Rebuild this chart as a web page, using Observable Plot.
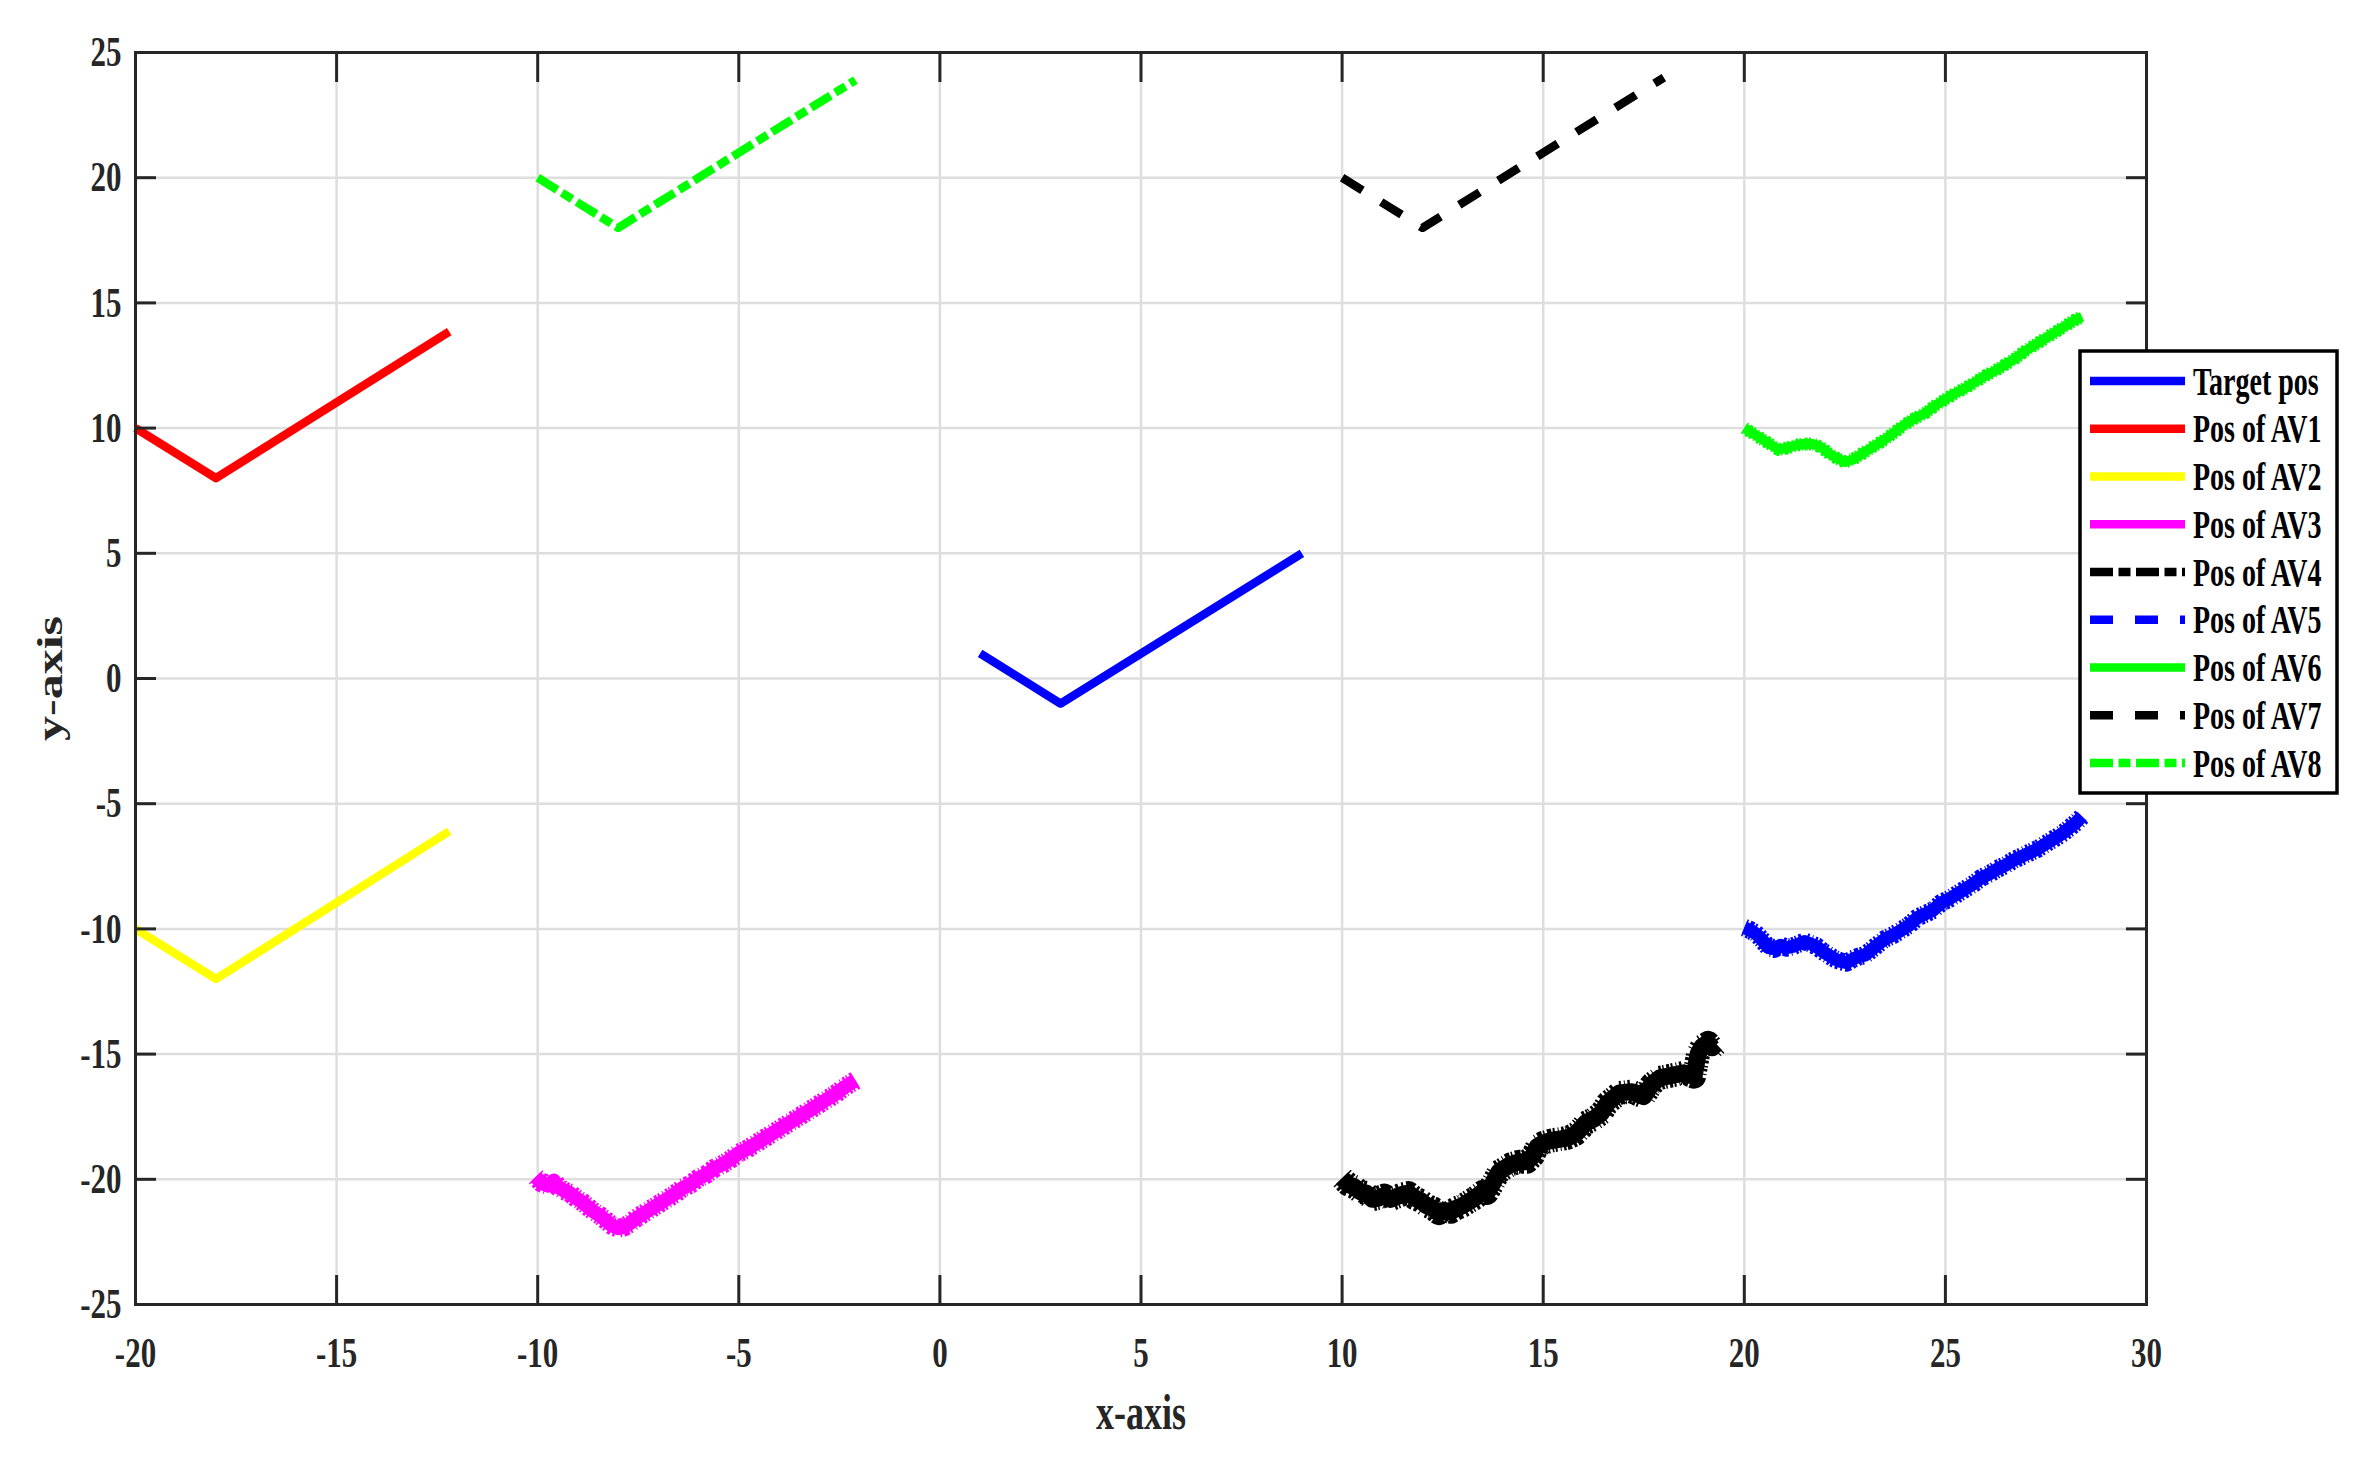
<!DOCTYPE html>
<html>
<head>
<meta charset="utf-8">
<script src="https://cdn.jsdelivr.net/npm/d3@7"></script>
<script src="https://cdn.jsdelivr.net/npm/@observablehq/plot@0.6"></script>
<style>
  html, body { margin: 0; padding: 0; background: #ffffff; }
  #wrap { position: relative; width: 2365px; height: 1463px; }
  #legend { position: absolute; left: 0; top: 0; pointer-events: none; }
</style>
</head>
<body>
<div id="wrap"></div>
<script>
// ---------------- data ----------------
const xTicks = [-20, -15, -10, -5, 0, 5, 10, 15, 20, 25, 30];
const yTicks = [-25, -20, -15, -10, -5, 0, 5, 10, 15, 20, 25];

const seriesNames = ["Target pos", "Pos of AV1", "Pos of AV2", "Pos of AV3", "Pos of AV4",
                     "Pos of AV5", "Pos of AV6", "Pos of AV7", "Pos of AV8"];

const targetPos = [[1, 1], [3, -1], [9, 5]];
const av1 = [[-20, 10], [-18, 8], [-12.2, 13.85]];
const av2 = [[-20, -10], [-18, -12], [-12.2, -6.1]];
const av3 = [[-10.05, -19.9], [-9.9, -20.15], [-9.75, -20.25], [-9.6, -20.05], [-9.5, -20.3], [-9.35, -20.45],
  [-9.2, -20.55], [-9.05, -20.75], [-8.9, -20.9], [-8.75, -21.1], [-8.6, -21.3], [-8.45, -21.45], [-8.3, -21.65],
  [-8.15, -21.85], [-8.0, -21.95], [-7.85, -21.9], [-7.7, -21.75], [-7.55, -21.55], [-7.4, -21.4], [-7.2, -21.2],
  [-7.0, -21.0], [-6.8, -20.8], [-6.6, -20.6], [-6.4, -20.35], [-6.2, -20.2], [-6.0, -19.95], [-5.8, -19.8],
  [-5.6, -19.55], [-5.4, -19.4], [-5.2, -19.2], [-5.0, -18.95], [-4.8, -18.8], [-4.6, -18.6], [-4.4, -18.4],
  [-4.2, -18.2], [-4.0, -18.0], [-3.8, -17.8], [-3.6, -17.6], [-3.4, -17.4], [-3.2, -17.2], [-3.0, -17.0],
  [-2.8, -16.8], [-2.6, -16.6], [-2.4, -16.35], [-2.2, -16.15], [-2.1, -16.05]];
const av4 = [[10.0, -19.95], [10.15, -20.2], [10.3, -20.3], [10.45, -20.5], [10.6, -20.55], [10.75, -20.8],
  [10.9, -20.75], [11.05, -20.65], [11.2, -20.8], [11.35, -20.7], [11.5, -20.6], [11.65, -20.55], [11.8, -20.75],
  [11.95, -20.85], [12.1, -21.05], [12.25, -21.15], [12.4, -21.35], [12.55, -21.25], [12.7, -21.3], [12.85, -21.15],
  [13.0, -21.05], [13.15, -20.9], [13.3, -20.75], [13.5, -20.5], [13.6, -20.55], [13.75, -20.15], [13.9, -19.7],
  [14.05, -19.55], [14.2, -19.4], [14.4, -19.3], [14.6, -19.3], [14.75, -19.05], [14.85, -18.7], [15.0, -18.55],
  [15.2, -18.45], [15.4, -18.4], [15.6, -18.35], [15.8, -18.2], [15.95, -17.95], [16.05, -17.75], [16.25, -17.6],
  [16.45, -17.35], [16.6, -16.95], [16.9, -16.55], [17.2, -16.5], [17.5, -16.7], [17.7, -16.2], [17.9, -15.95],
  [18.2, -15.85], [18.5, -15.75], [18.75, -15.9], [18.85, -15.0], [18.95, -14.7], [19.1, -14.55], [19.2, -14.75],
  [19.3, -14.6]];
const av5 = [[20.0, -9.95], [20.15, -10.05], [20.3, -10.2], [20.45, -10.45], [20.6, -10.75], [20.75, -10.8],
  [20.9, -10.65], [21.05, -10.75], [21.2, -10.7], [21.35, -10.6], [21.5, -10.5], [21.65, -10.6], [21.8, -10.7],
  [21.95, -10.9], [22.1, -11.05], [22.25, -11.2], [22.4, -11.3], [22.55, -11.35], [22.7, -11.2], [22.85, -11.1],
  [23.0, -11.05], [23.15, -10.85], [23.3, -10.65], [23.5, -10.4], [23.7, -10.25], [23.9, -10.05], [24.1, -9.85],
  [24.3, -9.55], [24.5, -9.4], [24.7, -9.25], [24.9, -8.95], [25.1, -8.8], [25.3, -8.6], [25.5, -8.4], [25.7, -8.2],
  [25.9, -7.95], [26.1, -7.8], [26.3, -7.6], [26.5, -7.45], [26.7, -7.25], [26.9, -7.1], [27.1, -6.95], [27.3, -6.8],
  [27.5, -6.6], [27.7, -6.4], [27.9, -6.2], [28.1, -5.95], [28.25, -5.75], [28.4, -5.5]];
const av6 = [[20.0, 10.0], [20.2, 9.8], [20.4, 9.6], [20.6, 9.4], [20.85, 9.15], [21.05, 9.2], [21.25, 9.3],
  [21.45, 9.37], [21.7, 9.37], [21.9, 9.25], [22.1, 9.0], [22.3, 8.8], [22.5, 8.65], [22.7, 8.75], [22.9, 8.95],
  [23.1, 9.15], [23.3, 9.35], [23.5, 9.55], [23.75, 9.85], [24.0, 10.15], [24.25, 10.4], [24.5, 10.6], [24.75, 10.9],
  [25.0, 11.15], [25.25, 11.4], [25.5, 11.6], [25.75, 11.85], [26.0, 12.1], [26.25, 12.3], [26.5, 12.55],
  [26.75, 12.8], [27.0, 13.1], [27.25, 13.35], [27.5, 13.6], [27.75, 13.85], [28.0, 14.1], [28.2, 14.3], [28.4, 14.45]];
const av7 = [[10, 20], [12, 18], [18, 24]];
const av8 = [[-10, 20], [-8, 18], [-2.1, 23.9]];

const seriesData = [targetPos, av1, av2, av3, av4, av5, av6, av7, av8];

// ---------------- styles ----------------
const seriesColors = ["#0000ff", "#ff0000", "#ffff00", "#ff00ff", "#000000", "#0000ff", "#00ff00", "#000000", "#00ff00"];
const dashDot = "23 5.5 12 5.5";
const dashed = "23 22";
const legendDashes = [null, null, null, null, dashDot, dashed, null, dashed, dashDot];
const plotDashes = [null, null, null, null, null, null, null, "24 22", dashDot];
const plotWidths = [8.5, 8.5, 8.5, 14, 17, 13, 10, 8.5, 8.5];
// ragged edge for the noisy (measured) trajectories
const fuzzWidths = [0, 0, 0, 19, 24, 18, 13, 0, 0];
const fuzzDash = "1.5 2.5 3 1.5 2 3 1 2.5 2.5 1.5";

const SQUISH = 0.72;
const FONT = "'Liberation Serif', 'Times New Roman', Times, serif";

// ---------------- chart ----------------
const lineMarks = [];
seriesData.forEach((pts, i) => {
  if (fuzzWidths[i] > 0) {
    lineMarks.push(Plot.line(pts, {
      x: d => d[0], y: d => d[1],
      stroke: seriesColors[i], strokeWidth: fuzzWidths[i],
      strokeDasharray: fuzzDash, strokeLinejoin: "round", strokeLinecap: "butt"
    }));
  }
  lineMarks.push(Plot.line(pts, {
    x: d => d[0], y: d => d[1],
    stroke: seriesColors[i],
    strokeWidth: plotWidths[i],
    strokeDasharray: plotDashes[i] || undefined,
    strokeLinejoin: "round",
    strokeLinecap: "butt"
  }));
});

const chart = Plot.plot({
  width: 2365, height: 1463,
  marginLeft: 135, marginRight: 219, marginTop: 52, marginBottom: 159,
  x: {domain: [-20, 30], label: null},
  y: {domain: [-25, 25], label: null},
  style: {fontFamily: FONT, fontWeight: "bold", background: "#ffffff", color: "#262626"},
  marks: [
    Plot.gridX(xTicks, {stroke: "#dedede", strokeOpacity: 1, strokeWidth: 2.5}),
    Plot.gridY(yTicks, {stroke: "#dedede", strokeOpacity: 1, strokeWidth: 2.5}),
    ...lineMarks,
    Plot.axisX(xTicks, {anchor: "bottom", tickSize: -29, strokeWidth: 3, stroke: "#262626", tickFormat: () => "", label: null}),
    Plot.axisX(xTicks, {anchor: "top", tickSize: -29, strokeWidth: 3, stroke: "#262626", tickFormat: () => "", label: null}),
    Plot.axisY(yTicks, {anchor: "left", tickSize: -21, strokeWidth: 3, stroke: "#262626", tickFormat: () => "", label: null}),
    Plot.axisY(yTicks, {anchor: "right", tickSize: -21, strokeWidth: 3, stroke: "#262626", tickFormat: () => "", label: null}),
    Plot.axisX(xTicks, {anchor: "bottom", tickSize: 0, tickPadding: 32, fontSize: 43, fontWeight: "bold",
      fill: "#262626", tickFormat: d => String(d), label: null}),
    Plot.axisY(yTicks, {anchor: "left", tickSize: 0, tickPadding: 14, fontSize: 43, fontWeight: "bold",
      fill: "#262626", tickFormat: d => String(d), label: null}),
    Plot.frame({stroke: "#262626", strokeWidth: 3}),
    Plot.text(["x-axis"], {text: d => d, frameAnchor: "bottom", lineAnchor: "middle", textAnchor: "middle",
      dy: 108, fontSize: 50, fontWeight: "bold", fill: "#262626"}),
    Plot.text(["y-axis"], {text: d => d, frameAnchor: "left", lineAnchor: "middle", textAnchor: "middle",
      rotate: -90, dx: -85, fontSize: 50, fontWeight: "bold", fill: "#262626"})
  ]
});

// compress text horizontally (the reference figure is horizontally squeezed)
chart.querySelectorAll("text").forEach(t => {
  const tr = t.getAttribute("transform") || "";
  let tx = 0, ty = 0;
  const x = t.getAttribute("x"), y = t.getAttribute("y");
  if (x !== null && x !== "" && !isNaN(+x)) { tx = +x; t.removeAttribute("x"); }
  if (y !== null && y !== "" && !isNaN(+y)) { ty = +y; t.removeAttribute("y"); }
  const sc = /rotate/.test(tr) ? `scale(1,${SQUISH})` : `scale(${SQUISH},1)`;
  t.setAttribute("transform", `${tr} translate(${tx},${ty}) ${sc}`.trim());
});

const wrap = document.getElementById("wrap");
wrap.appendChild(chart);

// ---------------- legend ----------------
const lg = d3.create("svg").attr("id", "legend").attr("width", 2365).attr("height", 1463);
const boxX = 2080, boxY = 351, boxW = 257, boxH = 442;
lg.append("rect").attr("x", boxX).attr("y", boxY).attr("width", boxW).attr("height", boxH)
  .attr("fill", "#ffffff").attr("stroke", "#000000").attr("stroke-width", 3.5);
const row0 = 381, rowStep = 47.75;
seriesNames.forEach((name, i) => {
  const ry = row0 + i * rowStep;
  lg.append("line").attr("x1", 2090).attr("x2", 2185).attr("y1", ry).attr("y2", ry)
    .attr("stroke", seriesColors[i]).attr("stroke-width", 8.5)
    .attr("stroke-dasharray", legendDashes[i] || null).attr("stroke-linecap", "butt");
  lg.append("text").attr("transform", `translate(2193,${ry + 13.5}) scale(0.7,1)`)
    .attr("font-family", FONT).attr("font-weight", "bold").attr("font-size", 40)
    .attr("fill", "#000000").text(name);
});
wrap.appendChild(lg.node());
</script>
</body>
</html>
